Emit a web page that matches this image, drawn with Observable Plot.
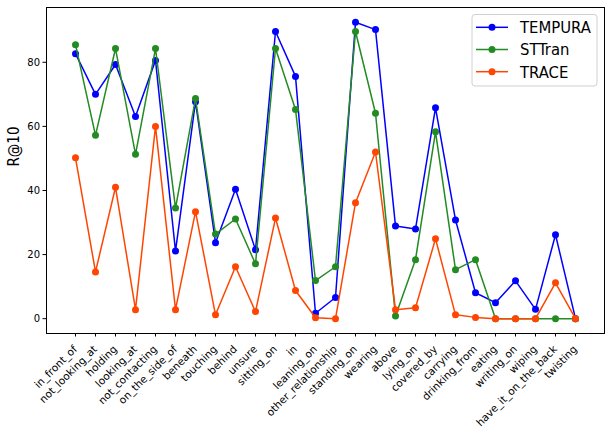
<!DOCTYPE html>
<html>
<head>
<meta charset="utf-8">
<script src="https://cdn.jsdelivr.net/npm/d3@7"></script>
<script src="https://cdn.jsdelivr.net/npm/@observablehq/plot@0.6"></script>
<style>
  body { margin: 0; background: #fff; }
  #wrap { position: relative; width: 611px; height: 428px; }
  #legend { position: absolute; left: 0; top: 0; pointer-events: none; }
</style>
</head>
<body>
<div id="wrap"></div>
<script>
const categories = ["in_front_of","not_looking_at","holding","looking_at","not_contacting","on_the_side_of","beneath","touching","behind","unsure","sitting_on","in","leaning_on","other_relationship","standing_on","wearing","above","lying_on","covered_by","carrying","drinking_from","eating","writing_on","wiping","have_it_on_the_back","twisting"];
const tempura = [82.7,70.0,79.3,63.1,80.6,21.1,67.7,23.7,40.4,21.5,89.6,75.6,1.7,6.6,92.5,90.2,28.9,28.0,65.8,30.8,8.1,5.0,11.8,2.9,26.2,0];
const sttran  = [85.5,57.2,84.3,51.3,84.3,34.5,68.7,26.4,31.1,17.1,84.3,65.3,11.9,16.2,89.6,64.1,0.8,18.4,58.3,15.3,18.4,0,0,0,0,0];
const trace   = [50.2,14.6,41.0,2.8,60.0,2.8,33.4,1.2,16.2,2.2,31.4,8.8,0.3,0,36.2,52.0,2.8,3.4,24.9,1.2,0.4,0,0,0,11.2,0];
const seriesNames = ["TEMPURA","STTran","TRACE"];
const seriesColors = ["#0000ff","#228b22","#ff4500"];
const yTicks = [0,20,40,60,80];

const seriesValues = [tempura, sttran, trace];
const data = seriesNames.flatMap((s, i) => categories.map((c, j) => ({series: s, cat: c, value: seriesValues[i][j]})));

const lineMarks = seriesNames.flatMap((s, i) => {
  const d = data.filter(r => r.series === s);
  return [
    Plot.line(d, {x: "cat", y: "value", stroke: seriesColors[i], strokeWidth: 1.5}),
    Plot.dot(d, {x: "cat", y: "value", fill: seriesColors[i], r: 3.5})
  ];
});

const chart = Plot.plot({
  width: 611,
  height: 428,
  marginLeft: 46,
  marginRight: 7,
  marginTop: 7,
  marginBottom: 95,
  style: {fontFamily: "DejaVu Sans", fontSize: "10px", color: "#000", background: "#fff"},
  x: {type: "point", domain: categories, padding: 1.25},
  y: {domain: [-4.63, 97.1]},
  marks: [
    Plot.axisY({ticks: yTicks, tickSize: 3.5, tickPadding: 3, fontSize: 10, label: null, stroke: "#000"}),
    Plot.axisX({tickSize: 3.5, tickFormat: () => "", label: null, stroke: "#000"}),
    Plot.text(categories, {x: d => d, frameAnchor: "bottom", dy: 11, dx: -3, rotate: -45, textAnchor: "end", lineAnchor: "top", fontSize: 10.5, fill: "#000"}),
    Plot.text(["R@10"], {frameAnchor: "left", dx: -32, dy: -4, rotate: -90, fontSize: 15, fontFamily: "DejaVu Sans Condensed, DejaVu Sans", fill: "#000"}),
    ...lineMarks,
    Plot.frame({stroke: "#000", strokeWidth: 1})
  ]
});
document.getElementById("wrap").appendChild(chart);

// legend overlay
const lg = d3.select("#wrap").append("svg").attr("id", "legend").attr("width", 611).attr("height", 428);
lg.append("rect").attr("x", 472).attr("y", 14.5).attr("width", 125).attr("height", 71.5)
  .attr("rx", 3).attr("fill", "rgba(255,255,255,0.8)").attr("stroke", "#d0d0d0").attr("stroke-width", 1);
seriesNames.forEach((s, i) => {
  const y = 27.3 + i * 22.2;
  lg.append("line").attr("x1", 476).attr("x2", 508).attr("y1", y).attr("y2", y)
    .attr("stroke", seriesColors[i]).attr("stroke-width", 1.5);
  lg.append("circle").attr("cx", 492).attr("cy", y).attr("r", 3.5).attr("fill", seriesColors[i]);
  lg.append("text").attr("x", 520).attr("y", y).attr("dy", "0.36em")
    .attr("font-family", "DejaVu Sans Condensed, DejaVu Sans").attr("font-size", 16.5).attr("fill", "#000").text(s);
});
</script>
</body>
</html>
